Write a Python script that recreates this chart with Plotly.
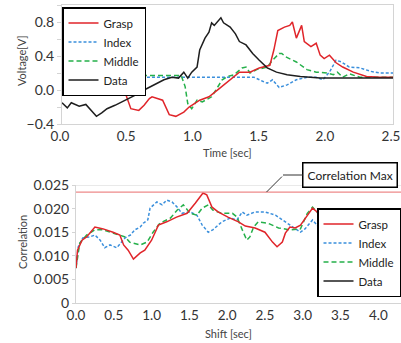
import plotly.graph_objects as go

# ---------------- Top chart: Voltage vs Time ----------------
data_t = [0, 0.04, 0.07, 0.13, 0.18, 0.22, 0.26, 0.30, 0.34, 0.40, 0.45, 0.52, 0.58, 0.62, 0.70, 0.77, 0.83, 0.88,
          0.92, 0.95, 0.98, 1.02, 1.04, 1.08, 1.11, 1.13, 1.15, 1.17, 1.20, 1.22, 1.27, 1.31, 1.34, 1.39, 1.44, 1.49,
          1.55, 1.62, 1.70, 1.80, 1.95, 2.10, 2.30, 2.50]
data_v = [-0.15, -0.21, -0.15, -0.19, -0.17, -0.24, -0.31, -0.27, -0.22, -0.18, -0.14, -0.09, -0.04, 0.0, 0.06, 0.12,
          0.15, 0.14, 0.21, 0.14, 0.21, 0.27, 0.47, 0.61, 0.68, 0.79, 0.76, 0.80, 0.85, 0.79, 0.74, 0.66, 0.57, 0.53,
          0.43, 0.35, 0.26, 0.21, 0.18, 0.16, 0.14, 0.14, 0.14, 0.14]

grasp_t = [0, 0.2, 0.43, 0.47, 0.52, 0.58, 0.62, 0.66, 0.68, 0.72, 0.76, 0.81, 0.86, 0.92, 0.96, 1.04, 1.11, 1.19,
           1.27, 1.34, 1.42, 1.49, 1.57, 1.60, 1.63, 1.68, 1.72, 1.74, 1.77, 1.81, 1.83, 1.88, 1.92, 1.95, 1.98, 2.02,
           2.07, 2.12, 2.2, 2.3, 2.4, 2.5]
grasp_v = [0.18, 0.18, 0.18, 0.0, -0.22, -0.24, -0.18, -0.1, -0.08, -0.1, -0.12, -0.29, -0.31, -0.26, -0.2, -0.12,
           -0.08, 0.02, 0.12, 0.21, 0.21, 0.26, 0.29, 0.47, 0.70, 0.74, 0.76, 0.80, 0.61, 0.76, 0.57, 0.51, 0.55, 0.41,
           0.37, 0.41, 0.32, 0.27, 0.21, 0.16, 0.15, 0.15]

index_t = [0, 0.3, 0.6, 0.9, 1.2, 1.45, 1.52, 1.55, 1.59, 1.64, 1.70, 1.77, 1.85, 1.92, 1.97, 2.02, 2.07, 2.11, 2.17,
           2.25, 2.33, 2.4, 2.5]
index_v = [0.14, 0.13, 0.15, 0.15, 0.15, 0.15, 0.10, 0.08, 0.12, 0.03, 0.06, 0.12, 0.15, 0.15, 0.12, 0.21, 0.35, 0.33,
           0.27, 0.26, 0.22, 0.20, 0.20]

middle_t = [0, 0.3, 0.6, 0.9, 0.93, 0.95, 0.98, 1.02, 1.06, 1.13, 1.17, 1.21, 1.25, 1.30, 1.36, 1.39, 1.42, 1.47, 1.55,
            1.59, 1.64, 1.66, 1.69, 1.77, 1.85, 1.92, 2.0, 2.05, 2.08, 2.12, 2.17, 2.25, 2.5]
middle_v = [0.17, 0.17, 0.17, 0.17, 0.04, -0.16, -0.22, -0.12, -0.14, -0.08, 0.02, 0.12, 0.16, 0.18, 0.26, 0.27, 0.20,
            0.24, 0.27, 0.35, 0.43, 0.43, 0.39, 0.33, 0.24, 0.21, 0.20, 0.18, 0.21, 0.15, 0.19, 0.15, 0.15]

# ---------------- Bottom chart: Correlation vs Shift ----------------
c_grasp_s = [0.0, 0.02, 0.08, 0.14, 0.25, 0.36, 0.49, 0.58, 0.63, 0.69, 0.76, 0.85, 0.91, 1.0, 1.09, 1.2, 1.33, 1.47,
             1.58, 1.68, 1.73, 1.80, 1.88, 2.01, 2.15, 2.24, 2.37, 2.5, 2.6, 2.66, 2.73, 2.77, 2.83, 2.9, 2.97, 3.06,
             3.13, 3.19, 3.26, 3.34, 3.6, 4.0, 4.3]
c_grasp_v = [0.0074, 0.0112, 0.0133, 0.014, 0.0161, 0.0157, 0.015, 0.0144, 0.0123, 0.0112, 0.0093, 0.0106, 0.0112,
             0.0133, 0.0165, 0.0172, 0.0182, 0.019, 0.0212, 0.0233, 0.0229, 0.0203, 0.0193, 0.0182, 0.0172, 0.0163,
             0.0159, 0.015, 0.0129, 0.0119, 0.0129, 0.0148, 0.0161, 0.0159, 0.0165, 0.0186, 0.0201, 0.0193, 0.0172,
             0.015, 0.012, 0.010, 0.0095]

c_middle_s = [0.0, 0.05, 0.14, 0.25, 0.36, 0.49, 0.58, 0.65, 0.71, 0.85, 0.94, 1.02, 1.11, 1.25, 1.34, 1.42, 1.51,
              1.60, 1.67, 1.75, 1.81, 1.93, 2.07, 2.13, 2.2, 2.26, 2.30, 2.35, 2.41, 2.54, 2.68, 2.83, 2.97, 3.06,
              3.13, 3.19, 3.27, 3.36, 3.6, 4.0, 4.3]
c_middle_v = [0.0074, 0.0127, 0.0144, 0.0155, 0.0155, 0.0148, 0.0144, 0.014, 0.0129, 0.0123, 0.0129, 0.015, 0.0169,
              0.018, 0.0197, 0.0208, 0.019, 0.0186, 0.0201, 0.0208, 0.0197, 0.019, 0.019, 0.0182, 0.0155, 0.0133,
              0.014, 0.0161, 0.0172, 0.0169, 0.0159, 0.0155, 0.0157, 0.019, 0.0203, 0.0193, 0.0165, 0.0144, 0.012,
              0.010, 0.0095]

c_index_s = [0.0, 0.03, 0.09, 0.18, 0.25, 0.32, 0.38, 0.45, 0.54, 0.61, 0.65, 0.72, 0.78, 0.85, 0.89, 0.95, 0.98,
             1.07, 1.14, 1.2, 1.27, 1.34, 1.40, 1.51, 1.60, 1.67, 1.75, 1.81, 1.93, 2.04, 2.13, 2.2, 2.26, 2.37, 2.5,
             2.64, 2.73, 2.83, 2.97, 3.03, 3.13, 3.19, 3.27, 3.34, 3.6, 4.0, 4.3]
c_index_v = [0.0074, 0.0119, 0.0138, 0.014, 0.0144, 0.0133, 0.0117, 0.0123, 0.0117, 0.0129, 0.0138, 0.0144, 0.0155,
             0.0161, 0.0169, 0.0176, 0.0201, 0.0214, 0.0208, 0.0218, 0.0214, 0.0203, 0.019, 0.0193, 0.0186, 0.0165,
             0.015, 0.0155, 0.0172, 0.018, 0.0176, 0.0193, 0.0186, 0.0193, 0.0193, 0.0186, 0.0176, 0.0165, 0.015,
             0.0157, 0.0176, 0.0165, 0.0144, 0.0133, 0.011, 0.0095, 0.009]

corr_max = 0.0235
corr_max_label = "Correlation Max"

RED = "#e0252a"
BLUE = "#3a8fdc"
GREEN = "#25b04a"
BLACK = "#1e1e1e"
AXIS = "#d4d4d4"
FONT = "Lato"

W, H = 401, 343


def px_x(p):
    return p / W


def px_y(p):
    return 1 - p / H


fig = go.Figure()

# top chart traces (legend order Grasp, Index, Middle, Data)
fig.add_trace(go.Scatter(x=index_t, y=index_v, name="Index", mode="lines", legend="legend", legendrank=2,
                         line=dict(color=BLUE, width=1.5, dash="3px,2px"), xaxis="x", yaxis="y"))
fig.add_trace(go.Scatter(x=middle_t, y=middle_v, name="Middle", mode="lines", legend="legend", legendrank=3,
                         line=dict(color=GREEN, width=1.5, dash="5px,3px"), xaxis="x", yaxis="y"))
fig.add_trace(go.Scatter(x=grasp_t, y=grasp_v, name="Grasp", mode="lines", legend="legend", legendrank=1,
                         line=dict(color=RED, width=1.5), xaxis="x", yaxis="y"))
fig.add_trace(go.Scatter(x=data_t, y=data_v, name="Data", mode="lines", legend="legend", legendrank=4,
                         line=dict(color=BLACK, width=1.5), xaxis="x", yaxis="y"))

# bottom chart traces
fig.add_trace(go.Scatter(x=c_index_s, y=c_index_v, name="Index", mode="lines", legend="legend2", legendrank=2,
                         line=dict(color=BLUE, width=1.5, dash="3px,2px"), xaxis="x2", yaxis="y2"))
fig.add_trace(go.Scatter(x=c_middle_s, y=c_middle_v, name="Middle", mode="lines", legend="legend2", legendrank=3,
                         line=dict(color=GREEN, width=1.5, dash="5px,3px"), xaxis="x2", yaxis="y2"))
fig.add_trace(go.Scatter(x=c_grasp_s, y=c_grasp_v, name="Grasp", mode="lines", legend="legend2", legendrank=1,
                         line=dict(color=RED, width=1.5), xaxis="x2", yaxis="y2"))
fig.add_trace(go.Scatter(x=[None], y=[None], name="Data", mode="lines", legend="legend2", legendrank=4,
                         line=dict(color=BLACK, width=1.5), xaxis="x2", yaxis="y2"))

tickfont = dict(family=FONT, size=14, color="#333")
xtickfont = dict(family=FONT, size=13.5, color="#333")
titlefont = dict(family=FONT, size=11, color="#444")
legfont = dict(family=FONT, size=11.5, color="#222")

fig.update_layout(
    width=W, height=H,
    margin=dict(l=0, r=0, t=0, b=0, autoexpand=False),
    paper_bgcolor="white", plot_bgcolor="white",
    font=dict(family=FONT),
    xaxis=dict(domain=[px_x(62), px_x(393)], range=[0, 2.5], dtick=0.5, tickformat=".1f",
               showline=True, linecolor=AXIS, mirror=True, showgrid=False, zeroline=False,
               ticks="", tickfont=xtickfont, anchor="y", automargin=False, ticklabeloverflow="allow",
               ticklabelshift=-2),
    yaxis=dict(domain=[px_y(124), px_y(5)], range=[-0.4, 1.0], dtick=0.4, tick0=-0.4, tickformat=".1f",
               showline=True, linecolor=AXIS, mirror=True, showgrid=False, zeroline=False,
               ticks="outside", ticklen=4, tickcolor=AXIS,
               minor=dict(dtick=0.2, ticks="outside", ticklen=4, tickcolor=AXIS),
               tickfont=tickfont, anchor="x", automargin=False),
    xaxis2=dict(domain=[px_x(76), 1.0], range=[0, 4.3], dtick=0.5, tickformat=".1f",
                showline=True, linecolor=AXIS, showgrid=False, zeroline=False,
                ticks="", tickfont=xtickfont, anchor="y2", automargin=False, ticklabeloverflow="allow"),
    yaxis2=dict(domain=[px_y(303), px_y(185)], range=[0, 0.025],
                tickvals=[0, 0.005, 0.01, 0.015, 0.02, 0.025],
                ticktext=["0", "0.005", "0.010", "0.015", "0.020", "0.025"],
                showline=True, linecolor=AXIS, showgrid=False, zeroline=False,
                ticks="outside", ticklen=3, tickcolor=AXIS,
                tickfont=tickfont, anchor="x2", automargin=False),
    legend=dict(x=px_x(62), y=px_y(7), xanchor="left", yanchor="top",
                bgcolor="white", bordercolor="black", borderwidth=1.5,
                font=legfont, itemwidth=30, tracegroupgap=0),
    legend2=dict(x=1.0, y=px_y(297), xanchor="right", yanchor="bottom",
                 bgcolor="white", bordercolor="black", borderwidth=1.5,
                 font=legfont, itemwidth=30, tracegroupgap=0),
    showlegend=True,
)

# top border of the lower plot and the Correlation Max line
fig.add_shape(type="line", xref="x2 domain", yref="y2", x0=0, x1=1, y0=0.025, y1=0.025,
              line=dict(color=AXIS, width=1), layer="below")
fig.add_shape(type="line", xref="x2 domain", yref="y2", x0=0, x1=1, y0=corr_max, y1=corr_max,
              line=dict(color="#ee8a8a", width=1.2))

# axis titles
title_kw = dict(xref="paper", yref="paper", showarrow=False, font=titlefont, xanchor="center", yanchor="middle")
fig.add_annotation(text="Voltage[V]", x=px_x(21), y=px_y(61), textangle=-90, **title_kw)
fig.add_annotation(text="Time [sec]", x=px_x(227), y=px_y(152), **title_kw)
fig.add_annotation(text="Correlation", x=px_x(22), y=px_y(242), textangle=-90, **title_kw)
fig.add_annotation(text="Shift [sec]", x=px_x(229), y=px_y(333), **title_kw)

# callout: elbow line to the max line, then the labelled box
fig.add_annotation(text="", xref="x2", yref="y2", x=2.52, y=corr_max, ax=17, ay=-17,
                   showarrow=True, arrowhead=0, arrowwidth=1, arrowcolor="#333")
fig.add_annotation(text=corr_max_label, xref="paper", yref="paper", x=px_x(283), y=px_y(175), ax=67, ay=0,
                   showarrow=True, arrowhead=0, arrowwidth=1, arrowcolor="#333",
                   bgcolor="white", bordercolor="black", borderwidth=1.5, borderpad=4,
                   font=dict(family=FONT, size=12, color="#222"))

fig.write_html("out.html", config={"displayModeBar": False},
               post_script="document.body.style.margin='0';document.body.style.overflow='hidden';")
